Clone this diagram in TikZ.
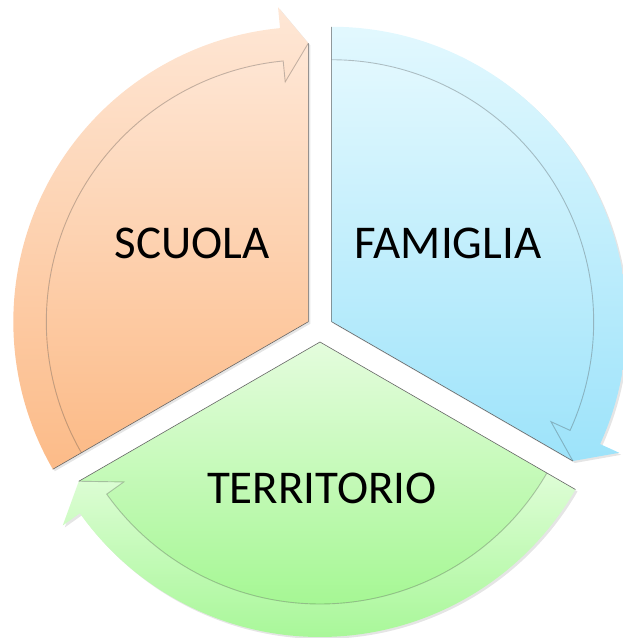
\documentclass[tikz,border=0pt]{standalone}
\usepackage{fontspec}
\setmainfont{Carlito}
\definecolor{orTop}{HTML}{FEE7D6}
\definecolor{orBot}{HTML}{FCBB88}
\definecolor{blTop}{HTML}{E2F8FE}
\definecolor{blBot}{HTML}{9DE3FA}
\definecolor{grTop}{HTML}{E4FCDD}
\definecolor{grBot}{HTML}{A4F792}
\definecolor{grBandTop}{HTML}{DEFDD6}
\definecolor{grBandBot}{HTML}{A6F796}
\tikzset{
  innerline/.style={draw=black, draw opacity=0.22, line width=0.9pt},
  edgeline/.style={draw=black!60, line width=0.6pt},
  shadowfill/.style={fill=black, fill opacity=0.10},
  label/.style={inner sep=0pt, font=\fontsize{47}{56}\selectfont, text=black}
}
% #1 apex, #2 tail angle, #3 head tip angle, #4 head base angle,
% #5/#6 pie colours, #7/#8 band colours
\newcommand\segshape[8]{%
  \begin{scope}[shift={(#1)}]
    \fill[shadowfill, shift={(2,-2)}] (0,0) -- (#3:278.5) -- (#4:316) -- (#4:295)
      arc[start angle=#4, end angle=#2, radius=295] -- cycle;
    \shade[top color=#5, bottom color=#6] (0,0) -- (#3:278.5) -- (#4:241) -- (#4:262)
      arc[start angle=#4, end angle=#2, radius=262] -- cycle;
    \shade[top color=#7, bottom color=#8] (#3:278.5) -- (#4:316) -- (#4:295)
      arc[start angle=#4, end angle=#2, radius=295] -- (#2:262)
      arc[start angle=#2, end angle=#4, radius=262] -- (#4:241) -- cycle;
    \draw[innerline] (#3:278.5) -- (#4:241) -- (#4:262)
      arc[start angle=#4, end angle=#2, radius=262];
    \draw[edgeline] (#3:278.5) -- (0,0) -- (#2:295);
  \end{scope}}
\begin{document}
\begin{tikzpicture}[x=1pt, y=1pt]
  \useasboundingbox (-320,-309.5) rectangle (303,328.5);
  \coordinate (apexS) at (150:13.5);
  \coordinate (apexF) at (30:13.5);
  \coordinate (apexT) at (270:13.5);
  \segshape{apexS}{210}{90}{95.5}{orTop}{orBot}{orTop}{orBot}
  \segshape{apexF}{90}{-30}{-24.5}{blTop}{blBot}{blTop}{blBot}
  \segshape{apexT}{330}{210}{215.5}{grTop}{grBot}{grBandTop}{grBandBot}
  \node[label] (scuola) at (-128,85.5) {SCUOLA};
  \node[label] (famiglia) at (128,85.5) {FAMIGLIA};
  \node[label] (territorio) at (2,-159.5) {TERRITORIO};
\end{tikzpicture}
\end{document}
